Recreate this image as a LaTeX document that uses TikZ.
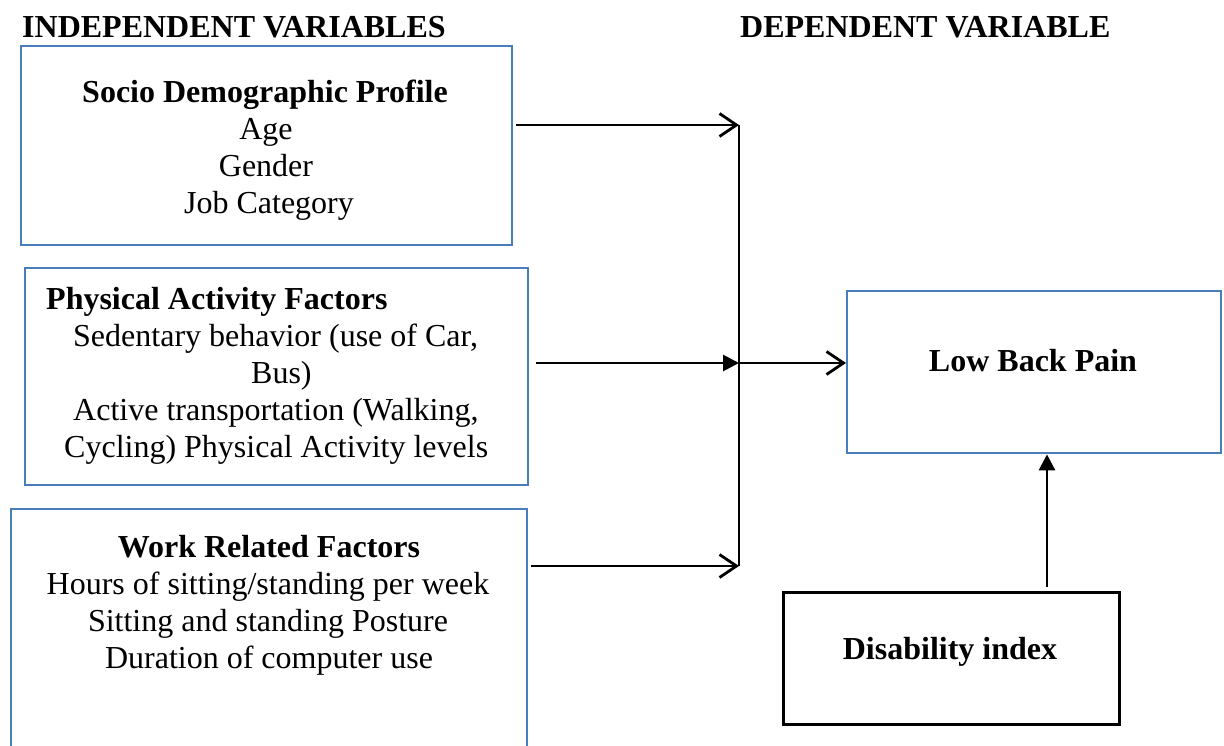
\documentclass[tikz,border=0pt]{standalone}
\usepackage{fontspec}
\setmainfont{Liberation Serif}
\usetikzlibrary{arrows.meta}
\definecolor{boxblue}{HTML}{4A7EBB}
\begin{document}
\begin{tikzpicture}[x=1pt,y=-1pt,
  bluebox/.style={draw=boxblue, line width=2.4pt, inner sep=0pt, anchor=north west},
  blackbox/.style={draw=black, line width=2.6pt, inner sep=0pt, anchor=north west},
  txt/.style={font=\fontsize{32}{37}\selectfont, inner sep=0pt, anchor=base},
  btxt/.style={inner sep=0pt, anchor=base, font=\fontsize{32}{37}\selectfont\bfseries},
  conn/.style={line width=2.8pt},
  openarrow/.style={conn, -{Straight Barb[length=17pt,width=23pt,line width=2.8pt]}},
  fillarrow/.style={conn, -{Triangle[length=16pt,width=16pt]}},
]
\useasboundingbox (0,0) rectangle (1224,746);
\clip (0,0) rectangle (1224,746);

% headers
\node[btxt, anchor=base west] (hind) at (22,38) {INDEPENDENT VARIABLES};
\node[btxt, anchor=base west] (hdep) at (740,38) {DEPENDENT VARIABLE};

% boxes
\node[bluebox, minimum width=491pt, minimum height=199pt] (socio) at (20,45) {};
\node[bluebox, minimum width=503pt, minimum height=217pt] (phys) at (24,267) {};
\node[bluebox, minimum width=516pt, minimum height=260pt] (work) at (10,508) {};
\node[bluebox, minimum width=374pt, minimum height=162pt] (lbp) at (846,290) {};
\node[blackbox, minimum width=336pt, minimum height=132pt] (dis) at (782,591) {};

% socio text
\node[btxt] (s0) at (265,103) {Socio Demographic Profile};
\node[txt] (s1) at (266,140) {Age};
\node[txt] (s2) at (266,177) {Gender};
\node[txt] (s3) at (269,214) {Job Category};

% physical text
\node[btxt, anchor=base west] (p0) at (46,309) {Physical Activity Factors};
\node[txt, anchor=base west] (p1) at (73,346) {Sedentary behavior (use of Car,};
\node[txt, anchor=base west] (p2) at (251,383) {Bus)};
\node[txt, anchor=base west] (p3) at (73,420) {Active transportation (Walking,};
\node[txt, anchor=base west] (p4) at (64,457) {Cycling) Physical Activity levels};

% work text
\node[btxt] (w0) at (269,557) {Work Related Factors};
\node[txt] (w1) at (268,594) {Hours of sitting/standing per week};
\node[txt] (w2) at (268,631) {Sitting and standing Posture};
\node[txt] (w3) at (269,668) {Duration of computer use};

% right texts
\node[btxt] (lbpt) at (1033,371) {Low Back Pain};
\node[btxt] (dist) at (950,659) {Disability index};

% connectors
\coordinate (j1) at (739,125);
\coordinate (j2) at (739,363);
\coordinate (j3) at (739,566);
\coordinate (vx) at (1047,0);

\draw[line width=1.3pt] (j1) -- (j3);
\draw[openarrow, shorten <=3pt] (socio.east |- j1) -- (j1);
\draw[fillarrow, shorten <=7pt] (phys.east |- j2) -- (j2);
\draw[openarrow] (j2) -- (lbp.west |- j2);
\draw[openarrow, shorten <=3pt] (work.east |- j3) -- (j3);
\draw[fillarrow, shorten <=4pt] (dis.north -| vx) -- (lbp.south -| vx);
\end{tikzpicture}
\end{document}
